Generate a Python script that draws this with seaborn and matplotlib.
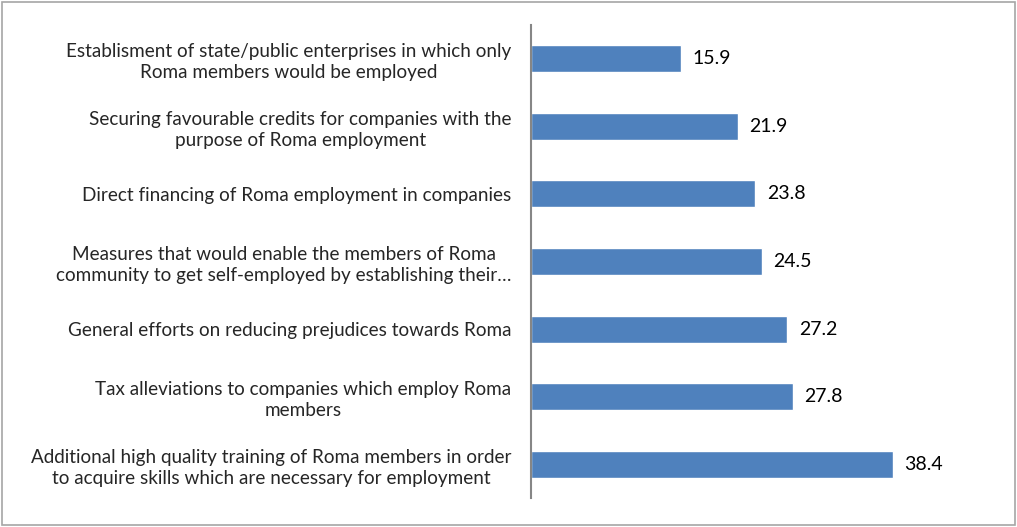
import matplotlib
matplotlib.use("Agg")
import matplotlib.pyplot as plt
import seaborn as sns
import pandas as pd
from matplotlib.patches import Rectangle

measures = [
    "Establisment of state/public enterprises in which only\nRoma members would be employed",
    "Securing favourable credits for companies with the\npurpose of Roma employment",
    "Direct financing of Roma employment in companies",
    "Measures that would enable the members of Roma\ncommunity to get self-employed by establishing their…",
    "General efforts on reducing prejudices towards Roma",
    "Tax alleviations to companies which employ Roma\nmembers",
    "Additional high quality training of Roma members in order\nto acquire skills which are necessary for employment",
]
shares = [15.9, 21.9, 23.8, 24.5, 27.2, 27.8, 38.4]

sns.set_theme(style="white")
plt.rcParams["font.family"] = ["Lato", "DejaVu Sans"]

df = pd.DataFrame({"measure": measures, "share": shares})

fig = plt.figure(figsize=(10.17, 5.27), dpi=100)
ax = fig.add_axes([531 / 1017, 1 - 498 / 527, 430 / 1017, 473 / 527])

sns.barplot(data=df, y="measure", x="share", orient="h", color="#4F81BD",
            width=0.4, saturation=1, ax=ax)

for patch, val in zip(ax.patches, shares):
    y = patch.get_y() + patch.get_height() / 2
    ax.text(val + 1.2, y, f"{val:.1f}", va="center", ha="left",
            fontsize=14, color="black")

ax.set_xlim(0, 45.6)
ax.set_xlabel("")
ax.set_ylabel("")
ax.set_xticks([])
ax.tick_params(axis="y", length=0, pad=14, labelsize=13.6)
for lab in ax.get_yticklabels():
    lab.set_multialignment("center")
    lab.set_linespacing(1.3)

for side in ["top", "right", "bottom"]:
    ax.spines[side].set_visible(False)
ax.spines["left"].set_color("#868686")
ax.spines["left"].set_linewidth(1.5)

fig.patches.append(Rectangle((0.002, 0.003), 0.996, 0.994, transform=fig.transFigure,
                             fill=False, edgecolor="#a6a6a6", linewidth=1.2))

fig.savefig("out.png", dpi=100)
